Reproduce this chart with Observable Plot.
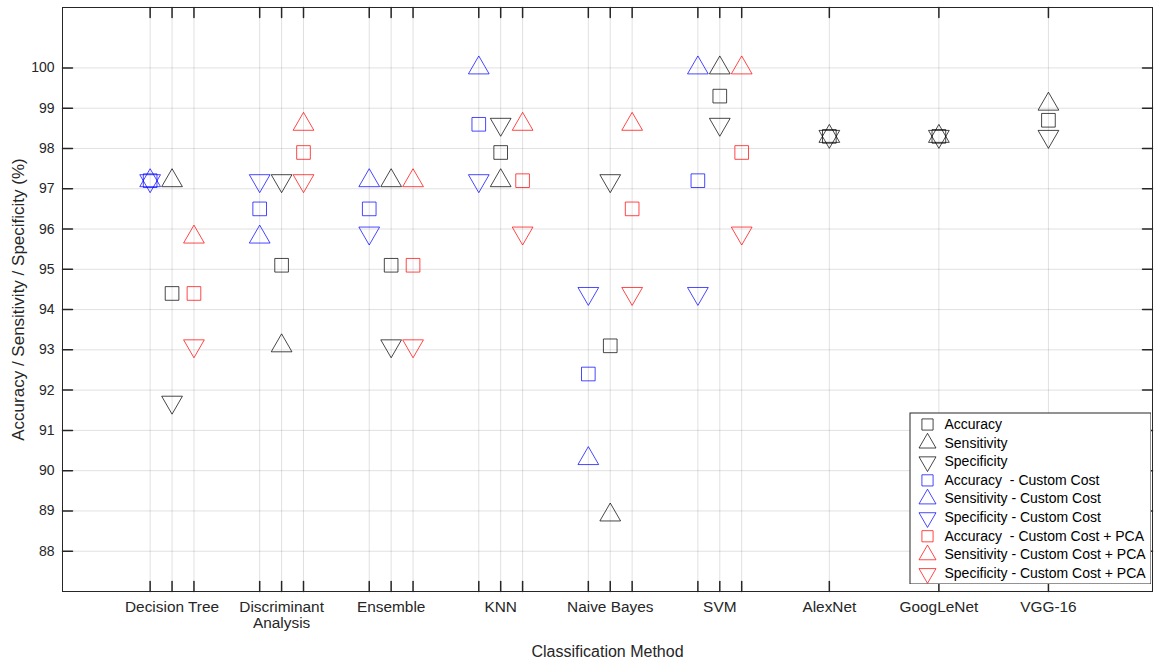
<!DOCTYPE html>
<html><head><meta charset="utf-8">
<script src="https://cdn.jsdelivr.net/npm/d3@7"></script>
<script src="https://cdn.jsdelivr.net/npm/@observablehq/plot@0.6"></script>
<style>
body{margin:0;background:#fff;font-family:"Liberation Sans",Arial,sans-serif;}
#wrap{position:relative;width:1154px;height:664px;}
#legend{position:absolute;left:909px;top:412px;}
#legend text{white-space:pre;}
</style></head><body><div id="wrap"><div id="main"></div><div id="legend"></div></div>
<script>
const methods = ["Decision Tree","Discriminant\nAnalysis","Ensemble","KNN","Naive Bayes","SVM","AlexNet","GoogLeNet","VGG-16"];
const accuracy       = [94.4, 95.1, 95.1, 97.9, 93.1, 99.3, 98.3, 98.3, 98.7];
const sensitivity    = [97.2, 93.1, 97.2, 97.2, 88.9, 100,  98.3, 98.3, 99.1];
const specificity    = [91.7, 97.2, 93.1, 98.6, 97.2, 98.6, 98.3, 98.3, 98.3];
const accuracyCC     = [97.2, 96.5, 96.5, 98.6, 92.4, 97.2, null, null, null];
const sensitivityCC  = [97.2, 95.8, 97.2, 100,  90.3, 100,  null, null, null];
const specificityCC  = [97.2, 97.2, 95.9, 97.2, 94.4, 94.4, null, null, null];
const accuracyPCA    = [94.4, 97.9, 95.1, 97.2, 96.5, 97.9, null, null, null];
const sensitivityPCA = [95.8, 98.6, 97.2, 98.6, 98.6, 100,  null, null, null];
const specificityPCA = [93.1, 97.2, 93.1, 95.9, 94.4, 95.9, null, null, null];
const yTicks = [88, 89, 90, 91, 92, 93, 94, 95, 96, 97, 98, 99, 100];
const seriesNames = [
  "Accuracy", "Sensitivity", "Specificity",
  "Accuracy  - Custom Cost", "Sensitivity - Custom Cost", "Specificity - Custom Cost",
  "Accuracy  - Custom Cost + PCA", "Sensitivity - Custom Cost + PCA", "Specificity - Custom Cost + PCA"
];
const xLabel = "Classification Method";
const yLabel = "Accuracy / Sensitivity / Specificity (%)";

// series structure
const groupOffset = [0, -0.2, 0.2];
const groupColor = ["#000000", "#0000ff", "#ff0000"];
const metricSymbol = ["square", "triangle", "triangle"];
const metricRotate = [0, 0, 180];
const seriesValues = [accuracy, sensitivity, specificity, accuracyCC, sensitivityCC, specificityCC, accuracyPCA, sensitivityPCA, specificityPCA];

const series = seriesValues.map((vals, s) => {
  const g = Math.floor(s / 3), m = s % 3;
  const rows = vals.map((v, i) => ({x: i + 1 + groupOffset[g], y: v})).filter(d => d.y != null);
  return {rows, g, m};
});

const centers = methods.map((_, i) => i + 1);
const subPositions = [];
methods.forEach((_, i) => {
  if (accuracyCC[i] != null) groupOffset.slice().sort((a,b)=>a-b).forEach(o => subPositions.push(i + 1 + o));
  else subPositions.push(i + 1);
});

const ink = "#262626";
const tickShape = {draw(ctx, l) { ctx.moveTo(0, 0); ctx.lineTo(0, -l); }};

const dotMarks = series.map(({rows, g, m}) => Plot.dot(rows, {
  x: "x", y: "y", symbol: metricSymbol[m], rotate: metricRotate[m],
  r: 7.7, stroke: groupColor[g], strokeWidth: 0.9, strokeOpacity: 0.8, fill: "none"
}));

const main = Plot.plot({
  width: 1154, height: 664,
  marginTop: 7, marginRight: 2, marginBottom: 73, marginLeft: 62,
  style: {fontFamily: '"Liberation Sans", Arial, sans-serif', color: ink, overflow: "visible"},
  x: {type: "linear", domain: [0, 9.95]},
  y: {domain: [87, 101.5]},
  marks: [
    Plot.gridY(yTicks, {stroke: "#000", strokeOpacity: 0.12}),
    Plot.gridX(subPositions, {stroke: "#000", strokeOpacity: 0.12}),
    ...dotMarks,
    Plot.frame({stroke: ink}),
    Plot.vector(subPositions, {x: d => d, frameAnchor: "bottom", length: 10, rotate: 0, anchor: "start", shape: tickShape, stroke: ink}),
    Plot.vector(subPositions, {x: d => d, frameAnchor: "top", length: 10, rotate: 180, anchor: "start", shape: tickShape, stroke: ink}),
    Plot.vector(yTicks, {y: d => d, frameAnchor: "left", length: 10, rotate: 90, anchor: "start", shape: tickShape, stroke: ink}),
    Plot.vector(yTicks, {y: d => d, frameAnchor: "right", length: 10, rotate: -90, anchor: "start", shape: tickShape, stroke: ink}),
    Plot.axisX(centers, {tickSize: 0, tickPadding: 9, tickFormat: d => methods[d - 1], fontSize: 15.4, lineHeight: 1.05, label: null, fill: ink}),
    Plot.axisY(yTicks, {tickSize: 0, tickPadding: 8, fontSize: 14, label: null, fill: ink}),
    Plot.text([xLabel], {frameAnchor: "bottom", dy: 60, textAnchor: "middle", lineAnchor: "middle", fontSize: 16, fill: ink}),
    Plot.text([yLabel], {frameAnchor: "left", dx: -44, rotate: -90, textAnchor: "middle", lineAnchor: "middle", fontSize: 17, fill: ink})
  ]
});
document.getElementById("main").appendChild(main);

const legendDots = series.map(({g, m}, s) => Plot.dot([s], {
  y: d => d, frameAnchor: "left", dx: 18, symbol: metricSymbol[m], rotate: metricRotate[m],
  r: 6.3, stroke: groupColor[g], strokeWidth: 0.9, strokeOpacity: 0.8, fill: "none"
}));
const legend = Plot.plot({
  width: 242, height: 172, margin: 0,
  style: {fontFamily: '"Liberation Sans", Arial, sans-serif', color: ink, background: "transparent"},
  x: {domain: [0, 1], axis: null},
  y: {domain: [0, 8], range: [12, 161], axis: null},
  marks: [
    Plot.frame({fill: "white", stroke: ink, inset: 0.5}),
    ...legendDots,
    Plot.text(seriesNames, {y: (d, i) => i, frameAnchor: "left", dx: 35, textAnchor: "start", fontSize: 14, fill: "#000"})
  ]
});
document.getElementById("legend").appendChild(legend);
</script></body></html>
